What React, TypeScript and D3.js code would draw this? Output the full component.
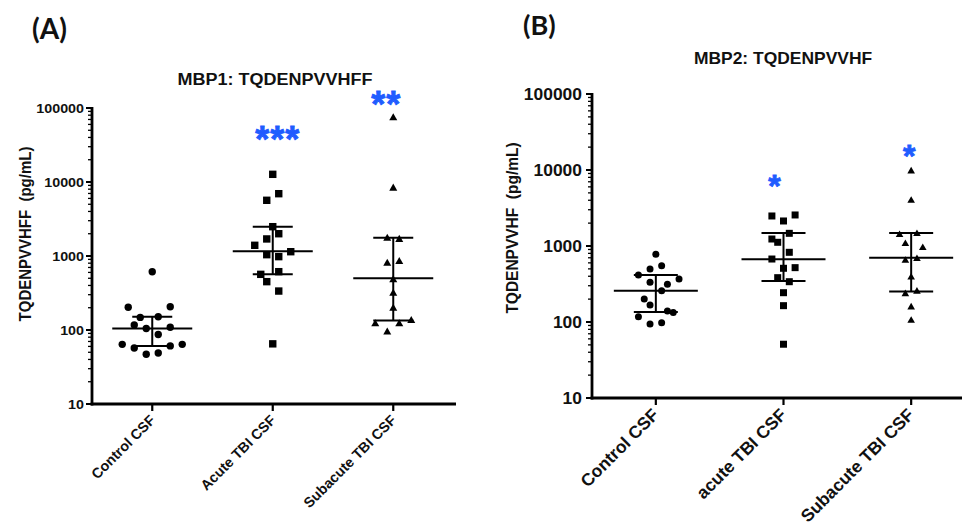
import React from "react";
import * as d3 from "d3";

// ---------------- DATA ----------------
const yTickValues = [10, 100, 1000, 10000, 100000];

const categoriesA = ["Control CSF", "Acute TBI CSF", "Subacute TBI CSF"];
const categoriesB = ["Control CSF", "acute TBI CSF", "Subacute TBI CSF"];

// Panel A values (pg/mL) and swarm slot indices
const aControl = [614, 203, 206, 148, 151, 117, 105, 109, 87, 64, 57, 61, 64, 47, 49];
const aControlSlots = [0, -4, 3, -2, 1, -3, -1, 3, 1, -5, -3, 3, 5, -1, 1];
const aAcute = [12700, 6950, 5660, 2490, 2000, 1700, 1395, 1143, 1042, 980, 614, 565, 450, 336, 65];
const aAcuteSlots = [0, 1, -1, 0, 1, -1, -3, 3, -1, 1, 1, -2, -1, 1, 0];
const aSubacute = [74800, 8380, 1766, 1700, 811, 855, 484, 319, 200, 123, 123, 136, 95];
const aSubacuteSlots = [0, 0, -1, 1, -1, 1, 0, 0, 0, -3, 1, 3, -1];

// Panel A median and interquartile range
const aMedian = [105, 1157, 499];
const aLower = [61, 565, 134];
const aUpper = [151, 2490, 1766];
const aSignificance = ["", "***", "**"];
const aSignificanceLevel = [0, 50000, 150000];

// Panel B values (pg/mL) and swarm slot indices
const bControl = [778, 498, 551, 415, 368, 333, 313, 258, 201, 167, 140, 133, 117, 94, 98];
const bControlSlots = [0, -1, 1, -3, 4, -1, 2, 1, -2, -1, 2, 3, -3, -1, 1];
const bAcute = [2483, 2560, 2134, 1468, 1236, 1119, 826, 674, 509, 519, 383, 339, 243, 164, 51];
const bAcuteSlots = [-2, 2, 0, 1, -2, -1, 1, -2, 0, 2, -1, 1, 0, 0, 0];
const bSubacute = [9790, 4030, 1425, 1468, 1086, 962, 654, 689, 394, 238, 256, 159, 106];
const bSubacuteSlots = [0, 0, -2, 1, -1, 2, -1, 1, 0, -1, 1, 0, 0];

const bMedian = [258, 668, 701];
const bLower = [135, 346, 251];
const bUpper = [415, 1482, 1482];
const bSignificance = ["", "*", "*"];
const bSignificanceLevel = [0, 8000, 19500];

const shapes = ["circle", "square", "triangle"];

// ---------------- HELPERS ----------------
const FONT = "'Liberation Sans', Arial, Helvetica, sans-serif";

function Txt({ x, y, rot = 0, size, anchor = "start", sx = 1, sy = 1, fill = "#111", weight = "bold", family = FONT, spacing = 0, stroke = "none", strokeWidth = 0, children }: any) {
  return (
    <text
      transform={`translate(${x},${y}) rotate(${rot}) scale(${sx},${sy})`}
      fontFamily={family}
      fontWeight={weight}
      fontSize={size}
      textAnchor={anchor}
      fill={fill}
      stroke={stroke}
      strokeWidth={strokeWidth}
      letterSpacing={spacing}
      style={{ whiteSpace: "pre" }}
    >
      {children}
    </text>
  );
}

function Marker({ shape, cx, cy, s }: any) {
  if (shape === "circle") return <circle cx={cx} cy={cy} r={s / 2} fill="#000" />;
  if (shape === "square") return <rect x={cx - s / 2} y={cy - s / 2} width={s} height={s} fill="#000" />;
  const h = s * 0.95;
  const p = d3.path();
  p.moveTo(cx, cy - h * 0.58);
  p.lineTo(cx + s / 2 + 0.3, cy + h * 0.42);
  p.lineTo(cx - s / 2 - 0.3, cy + h * 0.42);
  p.closePath();
  return <path d={p.toString()} fill="#000" />;
}

function Panel({ cfg }: any) {
  const y = d3.scaleLog().domain([10, 100000]).range([cfg.yBot, cfg.yTop]);
  const x = d3.scalePoint<string>().domain(cfg.categories).range([cfg.x0, cfg.x1]).padding(0.5);
  const minor: number[] = [];
  for (let i = 0; i < yTickValues.length - 1; i++)
    for (let k = 2; k <= 9; k++) minor.push(yTickValues[i] * k);

  return (
    <g>
      <Txt x={cfg.letterX} y={cfg.letterY} size={cfg.letterSize} family="Lato, 'Open Sans', sans-serif" weight="bold">
        {cfg.letter}
      </Txt>
      <Txt x={cfg.titleX} y={cfg.titleY} size={cfg.titleSize} anchor="middle" sx={cfg.sx}>
        {cfg.title}
      </Txt>
      <Txt x={cfg.yLabelX} y={cfg.yLabelY} rot={-90} size={cfg.yLabelSize} anchor="middle" sy={1.1}>
        {cfg.yLabel}
      </Txt>

      {/* y axis */}
      <line x1={cfg.x0} x2={cfg.x0} y1={cfg.yTop - 1} y2={cfg.yBot + 1.5} stroke="#000" strokeWidth={2.8} />
      {minor.map((v) => (
        <line key={"m" + v} x1={cfg.x0 - 4} x2={cfg.x0} y1={y(v)} y2={y(v)} stroke="#000" strokeWidth={1.3} />
      ))}
      {yTickValues.map((v) => (
        <g key={"t" + v}>
          <line x1={cfg.x0 - 6} x2={cfg.x0} y1={y(v)} y2={y(v)} stroke="#000" strokeWidth={2} />
          <Txt x={cfg.x0 - cfg.tickGap} y={y(v) + cfg.tickSize * 0.36} size={cfg.tickSize} anchor="end" sx={cfg.sx}>
            {String(v)}
          </Txt>
        </g>
      ))}

      {/* x axis */}
      <line x1={cfg.x0 - 1.4} x2={cfg.xAxisEnd} y1={cfg.yBot} y2={cfg.yBot} stroke="#000" strokeWidth={2.8} />
      {cfg.categories.map((c: string, i: number) => (
        <g key={"c" + i}>
          <line x1={x(c)} x2={x(c)} y1={cfg.yBot} y2={cfg.yBot + 7} stroke="#000" strokeWidth={2.2} />
          <Txt x={(x(c) as number) + cfg.catDx} y={cfg.yBot + cfg.catDy} rot={-45} size={cfg.catSize} anchor="end">
            {c}
          </Txt>
        </g>
      ))}

      {/* groups */}
      {cfg.groups.map((g: any, i: number) => {
        const cx = x(cfg.categories[i]) as number;
        return (
          <g key={"g" + i}>
            {g.values.map((v: number, j: number) => (
              <Marker key={j} shape={shapes[i]} cx={cx + g.slots[j] * cfg.slot} cy={y(v)} s={cfg.markerSize} />
            ))}
            <line x1={cx} x2={cx} y1={y(cfg.lower[i])} y2={y(cfg.upper[i])} stroke="#000" strokeWidth={2} />
            <line x1={cx - cfg.capHalf} x2={cx + cfg.capHalf} y1={y(cfg.lower[i])} y2={y(cfg.lower[i])} stroke="#000" strokeWidth={2} />
            <line x1={cx - cfg.capHalf} x2={cx + cfg.capHalf} y1={y(cfg.upper[i])} y2={y(cfg.upper[i])} stroke="#000" strokeWidth={2} />
            <line x1={cx - cfg.medHalf} x2={cx + cfg.medHalf} y1={y(cfg.median[i])} y2={y(cfg.median[i])} stroke="#000" strokeWidth={2} />
            {cfg.sig[i] ? (
              <Txt
                x={cx + cfg.sigDx[i]}
                y={y(cfg.sigLevel[i]) + cfg.sigSize * 0.6}
                size={cfg.sigSize}
                anchor="middle"
                fill="#1f5cff"
                stroke="#1f5cff"
                strokeWidth={0.8}
                spacing={cfg.sigSpacing}
              >
                {cfg.sig[i]}
              </Txt>
            ) : null}
          </g>
        );
      })}
    </g>
  );
}

const panelA = {
  letter: "(A)",
  letterX: 32,
  letterY: 39,
  letterSize: 28,
  title: "MBP1: TQDENPVVHFF",
  titleX: 275,
  titleY: 85,
  titleSize: 17,
  yLabel: "TQDENPVVHFF  (pg/mL)",
  yLabelX: 31,
  yLabelY: 234,
  yLabelSize: 15,
  sx: 1.06,
  x0: 92,
  x1: 453.5,
  xAxisEnd: 456,
  yTop: 108,
  yBot: 404,
  tickSize: 13.5,
  tickGap: 8,
  catSize: 14.3,
  catDx: 4,
  catDy: 17,
  categories: categoriesA,
  groups: [
    { values: aControl, slots: aControlSlots },
    { values: aAcute, slots: aAcuteSlots },
    { values: aSubacute, slots: aSubacuteSlots },
  ],
  median: aMedian,
  lower: aLower,
  upper: aUpper,
  sig: aSignificance,
  sigLevel: aSignificanceLevel,
  sigDx: [0, 5, -7],
  sigSize: 36,
  sigSpacing: 1,
  slot: 6,
  markerSize: 7.4,
  capHalf: 20,
  medHalf: 40,
};

const panelB = {
  letter: "(B)",
  letterX: 523,
  letterY: 35,
  letterSize: 27,
  title: "MBP2: TQDENPVVHF",
  titleX: 783,
  titleY: 64,
  titleSize: 16.3,
  yLabel: "TQDENPVVHF  (pg/mL)",
  yLabelX: 518,
  yLabelY: 228,
  yLabelSize: 15.5,
  sx: 1.07,
  x0: 592,
  x1: 975,
  xAxisEnd: 962,
  yTop: 94,
  yBot: 398,
  tickSize: 16.3,
  tickGap: 10,
  catSize: 17.5,
  catDx: 4,
  catDy: 18,
  categories: categoriesB,
  groups: [
    { values: bControl, slots: bControlSlots },
    { values: bAcute, slots: bAcuteSlots },
    { values: bSubacute, slots: bSubacuteSlots },
  ],
  median: bMedian,
  lower: bLower,
  upper: bUpper,
  sig: bSignificance,
  sigLevel: bSignificanceLevel,
  sigDx: [0, -9, -2],
  sigSize: 32,
  sigSpacing: 0,
  slot: 5.8,
  markerSize: 7,
  capHalf: 22,
  medHalf: 42,
};

export default function App() {
  return (
    <svg
      width={962}
      height={532}
      viewBox="0 0 962 532"
      style={{ position: "absolute", left: 0, top: 0, background: "#fff" }}
    >
      <rect x={0} y={0} width={962} height={532} fill="#fff" />
      <Panel cfg={panelA} />
      <Panel cfg={panelB} />
    </svg>
  );
}
